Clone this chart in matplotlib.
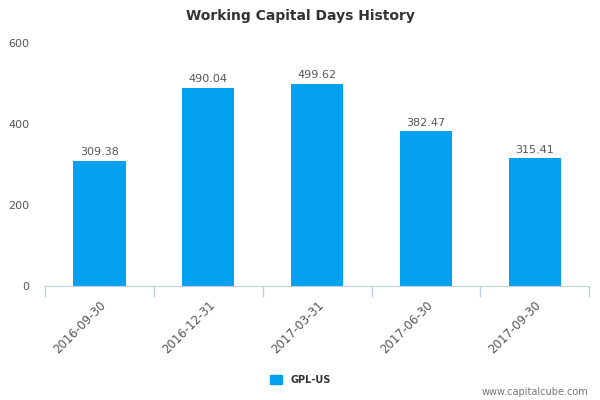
import numpy as np
import matplotlib.pyplot as plt
from matplotlib.patches import Patch

dates  = ["2016-09-30", "2016-12-31", "2017-03-31", "2017-06-30", "2017-09-30"]
values = [309.38, 490.04, 499.62, 382.47, 315.41]
yticks = [0, 200, 400, 600]

bar_color  = "#03a1ef"
text_color = "#555555"
axis_color = "#c0d0e0"

fig = plt.figure(figsize=(6, 4), dpi=100)
ax = fig.add_axes([0.075, 0.285, 0.907, 0.6075])

x = np.arange(len(dates))
bars = ax.bar(x, values, width=0.48, color=bar_color, zorder=2)

for xi, v in zip(x, values):
    ax.text(xi, v + 8, f"{v:.2f}", ha="center", va="bottom", fontsize=8, color=text_color)

ax.set_xlim(-0.5, len(dates) - 0.5)
ax.set_ylim(0, 600)
ax.set_yticks(yticks)
ax.set_yticklabels([str(t) for t in yticks], fontsize=8, color=text_color)
ax.tick_params(axis="y", length=0, pad=11)

# category boundaries as tick marks
ax.set_xticks(np.arange(-0.5, len(dates), 1.0), minor=False)
ax.set_xticklabels([])
ax.tick_params(axis="x", length=8, color=axis_color, direction="out", width=1)
ax.set_xticks(x, minor=True)
ax.set_xticklabels(dates, minor=True, rotation=45, ha="right", rotation_mode="anchor",
                   fontsize=8.5, color=text_color)
ax.tick_params(axis="x", which="minor", length=0, pad=9)

for side in ["top", "right", "left"]:
    ax.spines[side].set_visible(False)
ax.spines["bottom"].set_color(axis_color)

fig.text(0.5, 0.96, "Working Capital Days History", ha="center", va="center",
         fontsize=10, fontweight="bold", color="#333333")

fig.legend(handles=[Patch(color=bar_color, label="GPL-US")], loc="center",
           bbox_to_anchor=(0.5, 0.05), frameon=False, handlelength=1.3, handleheight=1.0,
           prop={"size": 7, "weight": "bold"}, labelcolor="#333333")

fig.text(0.98, 0.02, "www.capitalcube.com", ha="right", va="center", fontsize=7, color="#777777")

fig.savefig("out.png", dpi=100)
